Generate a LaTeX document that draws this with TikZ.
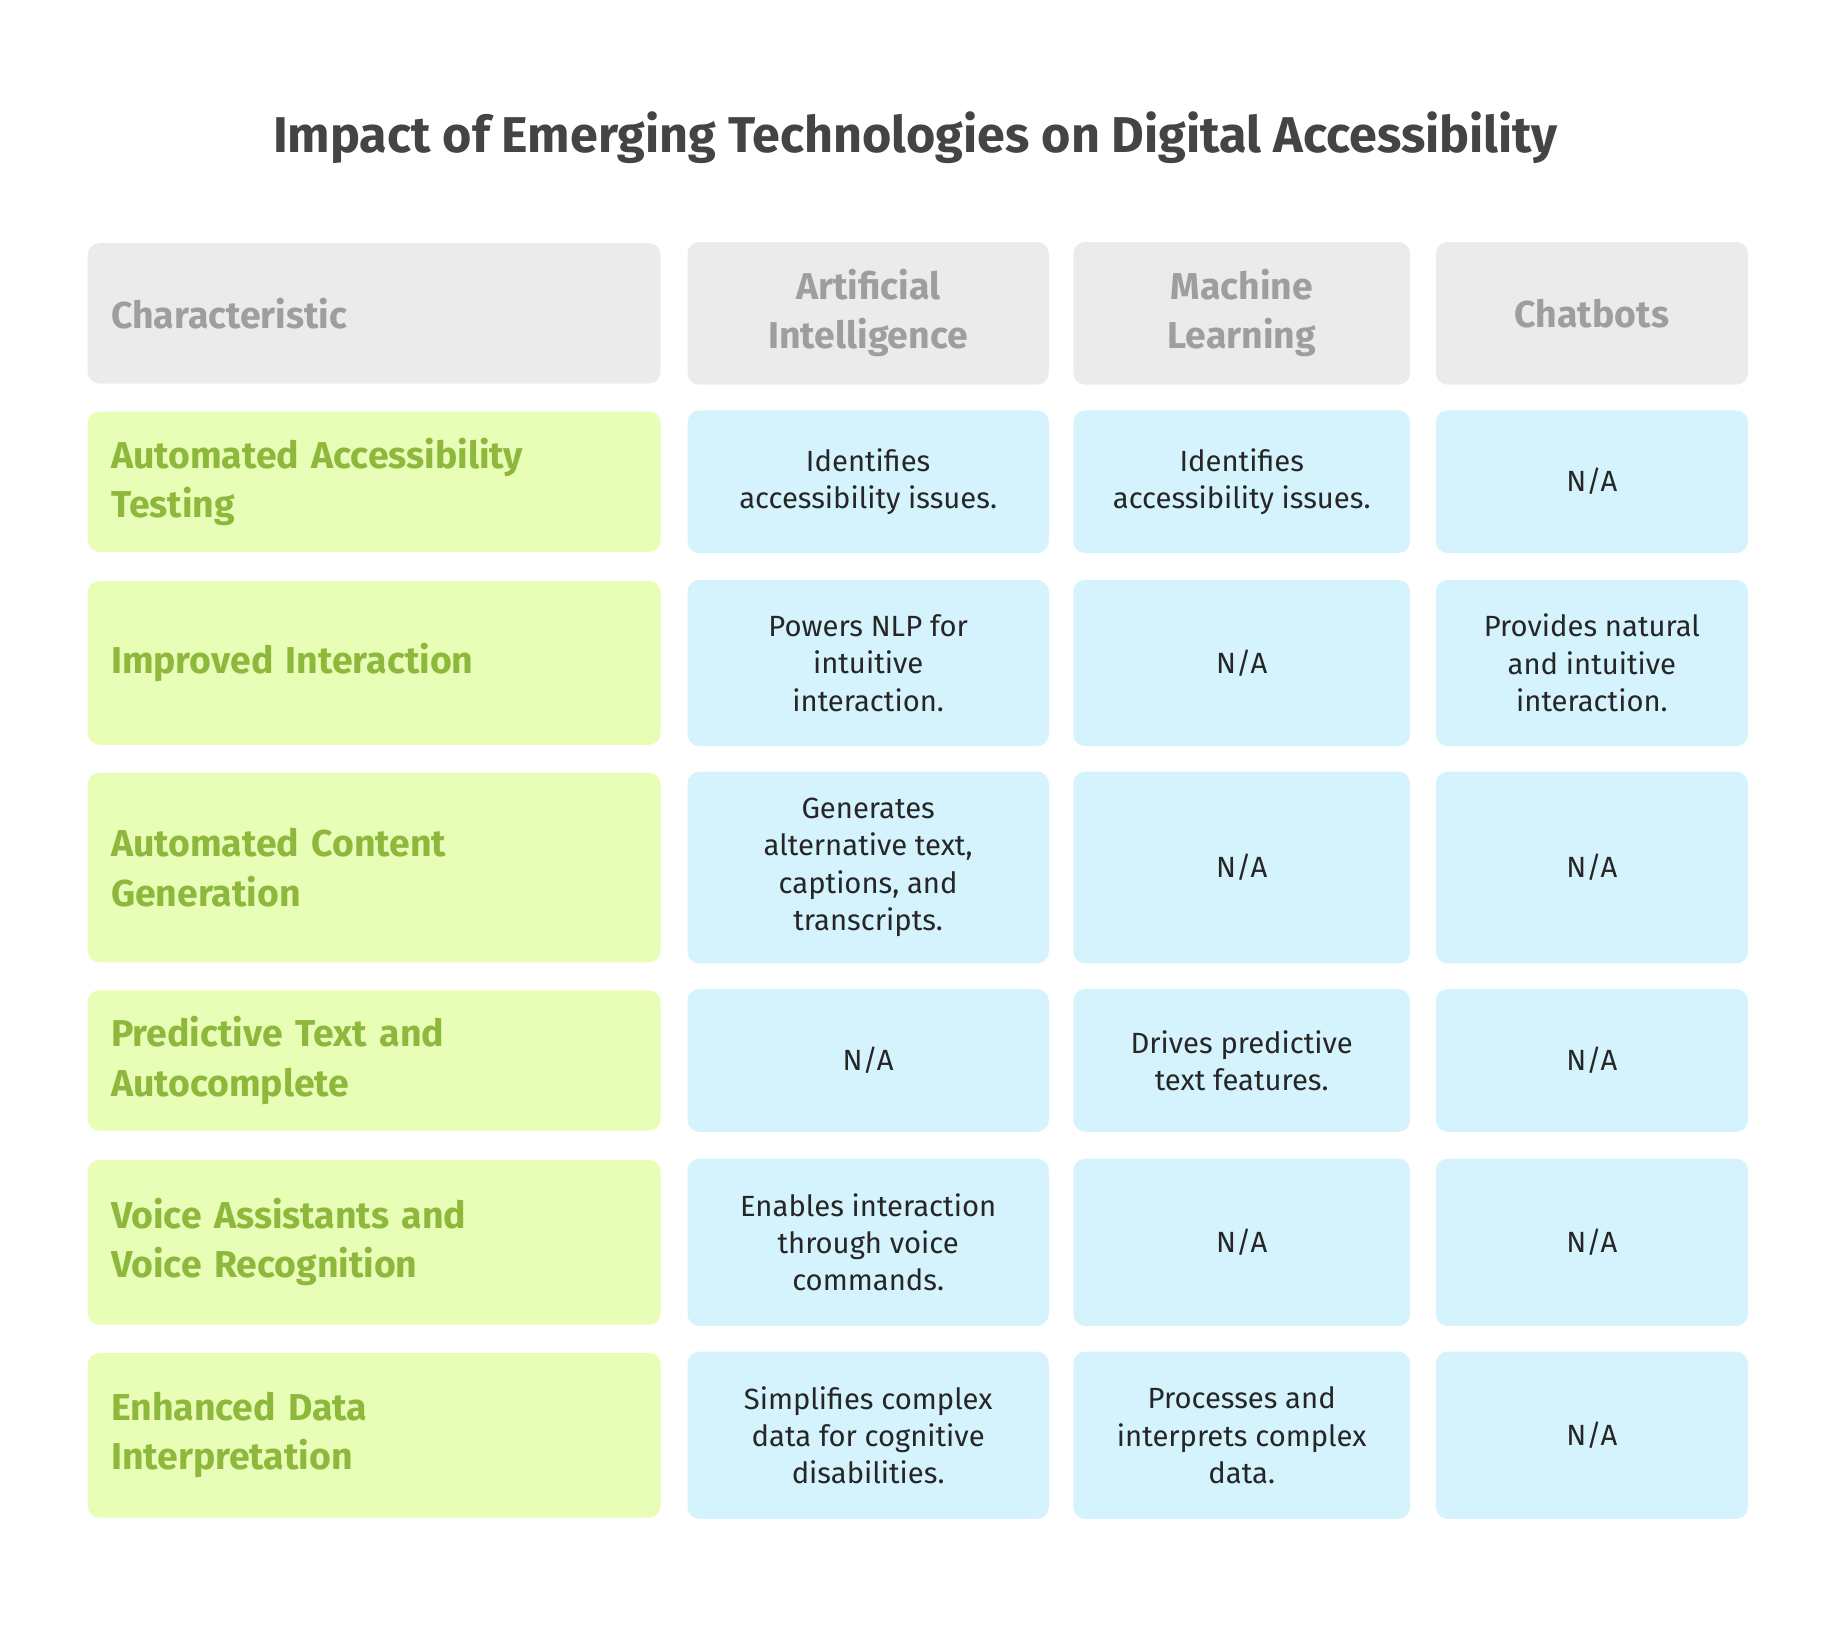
\documentclass[tikz,border=0pt]{standalone}
\usepackage{fontspec}
\setmainfont{Fira Sans}
\definecolor{headfill}{HTML}{EBEBEB}
\definecolor{headtext}{HTML}{9E9E9E}
\definecolor{keyfill}{HTML}{E8FDB5}
\definecolor{keytext}{HTML}{8DB83C}
\definecolor{cellfill}{HTML}{D4F3FD}
\definecolor{titletext}{HTML}{444444}
\begin{document}
\begin{tikzpicture}[x=0.5pt,y=-0.5pt,
    box/.style={rounded corners=5pt, inner sep=0pt, font=\fontsize{12.5}{16}\selectfont},
    head/.style={box, fill=headfill, text=headtext, font=\fontsize{16}{21}\selectfont\bfseries, align=center},
    key/.style={box, fill=keyfill, text=keytext, font=\fontsize{16}{21}\selectfont\bfseries, align=left, minimum width=245pt, text width=225pt},
    cell/.style={box, fill=cellfill, text=black!85, align=center},
    ai/.style={cell, minimum width=154.5pt},
    ml/.style={cell, minimum width=144pt},
    cb/.style={cell, minimum width=133.5pt}]
  \useasboundingbox (0,0) rectangle (1560,1396);
  % title
  \node[text=titletext, font=\fontsize{21.5}{26}\selectfont\bfseries] (title) at (783,118) {Impact of Emerging Technologies on Digital Accessibility};

  % header row
  \node[head, minimum width=245pt, text width=225pt, align=left, minimum height=60pt] (hk) at (320,268) {Characteristic};
  \node[head, minimum width=154.5pt, minimum height=61pt] (hai) at (742.5,268) {Artificial\\Intelligence};
  \node[head, minimum width=144pt, minimum height=61pt] (hml) at (1062,268) {Machine\\Learning};
  \node[head, minimum width=133.5pt, minimum height=61pt] (hcb) at (1361.5,268) {Chatbots};

  % row 1
  \node[key, minimum height=60pt] (k1) at (320,412) {Automated Accessibility\\Testing};
  \node[ai, minimum height=61pt] (ai1) at (742.5,412) {Identifies\\accessibility issues.};
  \node[ml, minimum height=61pt] (ml1) at (1062,412) {Identifies\\accessibility issues.};
  \node[cb, minimum height=61pt] (cb1) at (1361.5,412) {N/A};

  % row 2
  \node[key, minimum height=70pt] (k2) at (320,567) {Improved Interaction};
  \node[ai, minimum height=71pt] (ai2) at (742.5,567) {Powers NLP for\\intuitive\\interaction.};
  \node[ml, minimum height=71pt] (ml2) at (1062,567) {N/A};
  \node[cb, minimum height=71pt] (cb2) at (1361.5,567) {Provides natural\\and intuitive\\interaction.};

  % row 3
  \node[key, minimum height=81pt] (k3) at (320,742) {Automated Content\\Generation};
  \node[ai, minimum height=82pt] (ai3) at (742.5,742) {Generates\\alternative text,\\captions, and\\transcripts.};
  \node[ml, minimum height=82pt] (ml3) at (1062,742) {N/A};
  \node[cb, minimum height=82pt] (cb3) at (1361.5,742) {N/A};

  % row 4
  \node[key, minimum height=60pt] (k4) at (320,907) {Predictive Text and\\Autocomplete};
  \node[ai, minimum height=61pt] (ai4) at (742.5,907) {N/A};
  \node[ml, minimum height=61pt] (ml4) at (1062,907) {Drives predictive\\text features.};
  \node[cb, minimum height=61pt] (cb4) at (1361.5,907) {N/A};

  % row 5
  \node[key, minimum height=70.5pt] (k5) at (320,1062.5) {Voice Assistants and\\Voice Recognition};
  \node[ai, minimum height=71.5pt] (ai5) at (742.5,1062.5) {Enables interaction\\through voice\\commands.};
  \node[ml, minimum height=71.5pt] (ml5) at (1062,1062.5) {N/A};
  \node[cb, minimum height=71.5pt] (cb5) at (1361.5,1062.5) {N/A};

  % row 6
  \node[key, minimum height=70.5pt] (k6) at (320,1227.5) {Enhanced Data\\Interpretation};
  \node[ai, minimum height=71.5pt] (ai6) at (742.5,1227.5) {Simplifies complex\\data for cognitive\\disabilities.};
  \node[ml, minimum height=71.5pt] (ml6) at (1062,1227.5) {Processes and\\interprets complex\\data.};
  \node[cb, minimum height=71.5pt] (cb6) at (1361.5,1227.5) {N/A};
\end{tikzpicture}
\end{document}
